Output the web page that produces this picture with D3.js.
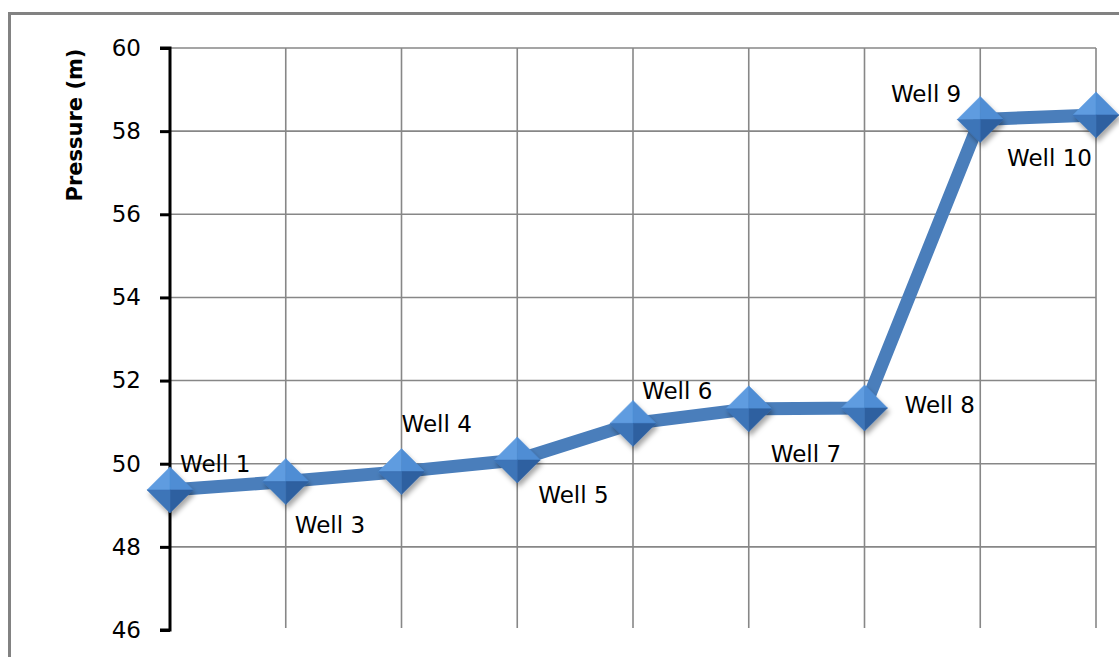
<!DOCTYPE html>
<meta charset="utf-8">
<style>
body { margin: 0; background: #fff; }
svg { display: block; }
.grid line { stroke: #878787; stroke-width: 1.6px; }
.yaxis path, .yaxis line { stroke: #000; stroke-width: 3px; }
.yaxis text { font-family: "DejaVu Sans", sans-serif; font-size: 23px; fill: #000; }
.lbl { font-family: "DejaVu Sans", sans-serif; font-size: 23px; fill: #000; }
.ytitle { font-family: "DejaVu Sans", sans-serif; font-size: 21px; font-weight: bold; fill: #000; }
</style>
<svg width="1119" height="657"></svg>
<script src="https://cdn.jsdelivr.net/npm/d3@7"></script>
<script>
// data
var wells = ["Well 1", "Well 3", "Well 4", "Well 5", "Well 6", "Well 7", "Well 8", "Well 9", "Well 10"];
var pressure = [49.37, 49.57, 49.81, 50.09, 50.97, 51.32, 51.34, 58.28, 58.39];
var yTicks = [46, 48, 50, 52, 54, 56, 58, 60];

// where each label sits relative to its point (dx, dy, anchor)
var labelOffsets = [
    [10, -18, "start"], [9, 51, "start"], [0, -40, "start"], [21, 43, "start"],
    [9, -24, "start"], [22, 53, "start"], [40, 5, "start"], [-19, -18, "end"], [-89, 51, "start"]
];

var svg = d3.select("svg");
var plotL = 170, plotR = 1096, plotT = 48, plotB = 630;

var x = d3.scalePoint().domain(wells).range([plotL, plotR]);
var y = d3.scaleLinear().domain([46, 60]).range([plotB, plotT]);

// outer chart border
svg.append("rect")
    .attr("x", 9.5).attr("y", 13.5)
    .attr("width", 1112).attr("height", 660)
    .attr("fill", "none")
    .attr("stroke", "#828282")
    .attr("stroke-width", 3);

// grid
var grid = svg.append("g").attr("class", "grid");
grid.selectAll(".h")
    .data(yTicks.filter(function(t) { return t > 46; }))
    .enter().append("line")
    .attr("x1", plotL).attr("x2", plotR)
    .attr("y1", function(d) { return y(d); })
    .attr("y2", function(d) { return y(d); });
grid.selectAll(".v")
    .data(wells.slice(1))
    .enter().append("line")
    .attr("x1", function(d) { return x(d); })
    .attr("x2", function(d) { return x(d); })
    .attr("y1", plotT).attr("y2", plotB - 2);

// y axis
var yAxis = svg.append("g")
    .attr("class", "yaxis")
    .attr("transform", "translate(" + plotL + ",0)")
    .call(d3.axisLeft(y).tickValues(yTicks).tickSize(10).tickSizeOuter(10).tickPadding(19));
yAxis.select(".domain").attr("d", "M-10," + plotT + "H0V" + plotB + "H-10");

svg.append("text")
    .attr("class", "ytitle")
    .attr("transform", "translate(82,125) rotate(-90)")
    .attr("text-anchor", "middle")
    .text("Pressure (m)");

// defs for marker look
var defs = svg.append("defs");
var f = defs.append("filter").attr("id", "shadow")
    .attr("x", "-50%").attr("y", "-50%").attr("width", "200%").attr("height", "200%");
f.append("feDropShadow")
    .attr("dx", 2).attr("dy", 4).attr("stdDeviation", 2.5)
    .attr("flood-color", "#000").attr("flood-opacity", 0.35);

// line
var pts = wells.map(function(w, i) { return { w: w, v: pressure[i] }; });
svg.append("path")
    .datum(pts)
    .attr("fill", "none")
    .attr("stroke", "#4a7ebb")
    .attr("stroke-width", 13)
    .attr("stroke-linejoin", "round")
    .attr("d", d3.line()
        .x(function(d) { return x(d.w); })
        .y(function(d) { return y(d.v); }));

// diamond markers, four shaded faces
var r = 23;
var faces = [
    { p: [[0, 0], [-r, 0], [0, -r]], c: "#5f9ce0" },
    { p: [[0, 0], [0, -r], [r, 0]], c: "#4f8dd4" },
    { p: [[0, 0], [r, 0], [0, r]], c: "#2f60a0" },
    { p: [[0, 0], [0, r], [-r, 0]], c: "#3d74b8" }
];
var mk = svg.append("g").selectAll("g")
    .data(pts)
    .enter().append("g")
    .attr("transform", function(d) { return "translate(" + x(d.w) + "," + y(d.v) + ")"; })
    .attr("filter", "url(#shadow)");
faces.forEach(function(fc) {
    mk.append("path")
        .attr("d", "M" + fc.p.map(function(q) { return q.join(","); }).join("L") + "Z")
        .attr("fill", fc.c)
        .attr("stroke", fc.c)
        .attr("stroke-width", 0.5);
});

// labels
svg.append("g").selectAll("text")
    .data(pts)
    .enter().append("text")
    .attr("class", "lbl")
    .attr("x", function(d, i) { return x(d.w) + labelOffsets[i][0]; })
    .attr("y", function(d, i) { return y(d.v) + labelOffsets[i][1]; })
    .attr("text-anchor", function(d, i) { return labelOffsets[i][2]; })
    .text(function(d) { return d.w; });
</script>
